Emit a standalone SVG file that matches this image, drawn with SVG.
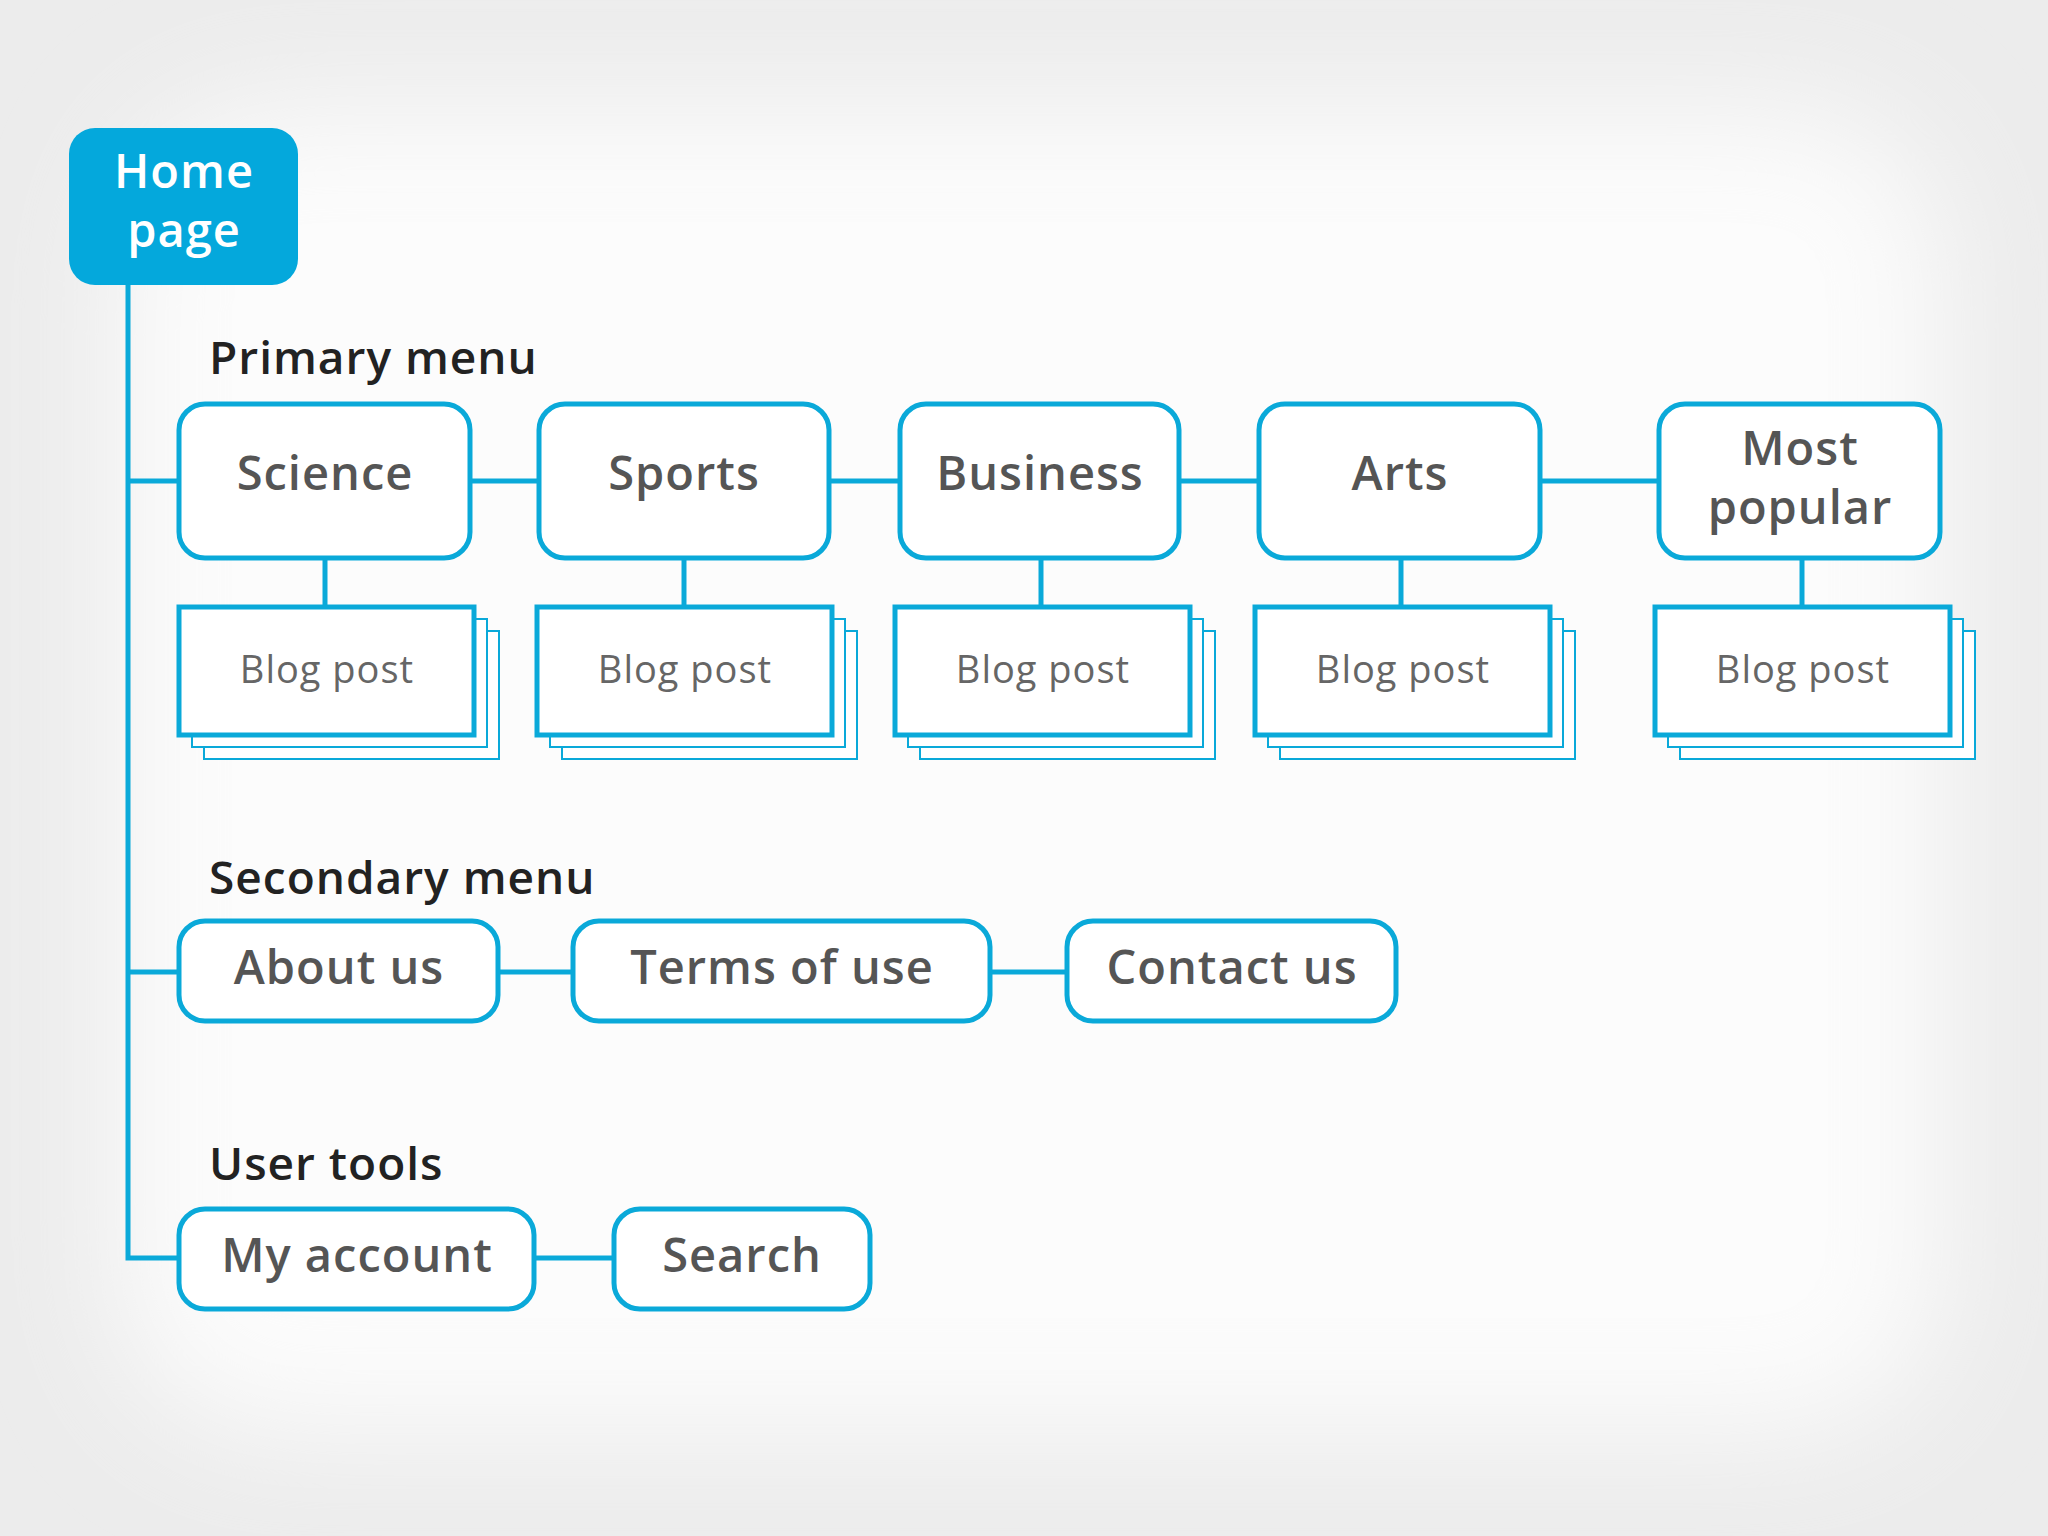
<svg xmlns="http://www.w3.org/2000/svg" width="2048" height="1536" viewBox="0 0 2048 1536">
<defs>
<filter id="blur" x="-20%" y="-20%" width="140%" height="140%"><feGaussianBlur stdDeviation="60"/></filter>
<style>
.n{fill:#fff;stroke:#0aa9d9;stroke-width:5}
.b{fill:#fff;stroke:#0aa9d9;stroke-width:5}
.s{fill:#fff;stroke:#0aa9d9;stroke-width:2}
.c{fill:none;stroke:#0aa9d9;stroke-width:5}
.t{font-family:"Open Sans","Liberation Sans",sans-serif;font-size:47px;fill:#555;text-anchor:middle;font-weight:600;letter-spacing:1px}
.bt{font-family:"Open Sans","Liberation Sans",sans-serif;font-size:38px;fill:#666;text-anchor:middle;letter-spacing:1px}
.h{font-family:"Open Sans","Liberation Sans",sans-serif;font-size:46px;fill:#222;font-weight:600;letter-spacing:1px}
</style>
</defs>
<rect width="2048" height="1536" fill="#ececec"/>
<rect x="120" y="110" width="1820" height="1320" rx="150" fill="#fcfcfc" filter="url(#blur)"/>
<g id="connectors">
<path class="c" d="M128 285 V1258 H179"/>
<path class="c" d="M128 481 H1659"/>
<path class="c" d="M128 972 H1067"/>
<path class="c" d="M534 1258 H614"/>
<path class="c" d="M325 558 V607 M684 558 V607 M1041 558 V607 M1401 558 V607 M1802 558 V607"/>
</g>
<g id="home"><rect x="69" y="128" width="229" height="157" rx="26" fill="#04a8dc"/>
<text x="184" y="188" class="t" style="fill:#fff">Home</text><text x="184" y="247" class="t" style="fill:#fff">page</text></g>
<text class="h" x="209" y="374">Primary menu</text>
<text class="h" x="209" y="894">Secondary menu</text>
<text class="h" x="209" y="1180">User tools</text>
<g id="science"><rect class="n" x="179" y="404" width="291" height="154" rx="26"/><text class="t" x="325" y="490">Science</text></g>
<g id="sports"><rect class="n" x="539" y="404" width="290" height="154" rx="26"/><text class="t" x="684" y="490">Sports</text></g>
<g id="business"><rect class="n" x="900" y="404" width="279" height="154" rx="26"/><text class="t" x="1040" y="490">Business</text></g>
<g id="arts"><rect class="n" x="1259" y="404" width="281" height="154" rx="26"/><text class="t" x="1400" y="490">Arts</text></g>
<g id="popular"><rect class="n" x="1659" y="404" width="281" height="154" rx="26"/><text class="t" x="1800" y="465">Most</text><text class="t" x="1800" y="524">popular</text></g>
<g id="blog1"><rect class="s" x="204" y="631" width="295" height="128"/><rect class="s" x="192" y="619" width="295" height="128"/><rect class="b" x="179" y="607" width="295" height="128"/><text class="bt" x="327" y="683">Blog post</text></g>
<g id="blog2"><rect class="s" x="562" y="631" width="295" height="128"/><rect class="s" x="550" y="619" width="295" height="128"/><rect class="b" x="537" y="607" width="295" height="128"/><text class="bt" x="685" y="683">Blog post</text></g>
<g id="blog3"><rect class="s" x="920" y="631" width="295" height="128"/><rect class="s" x="908" y="619" width="295" height="128"/><rect class="b" x="895" y="607" width="295" height="128"/><text class="bt" x="1043" y="683">Blog post</text></g>
<g id="blog4"><rect class="s" x="1280" y="631" width="295" height="128"/><rect class="s" x="1268" y="619" width="295" height="128"/><rect class="b" x="1255" y="607" width="295" height="128"/><text class="bt" x="1403" y="683">Blog post</text></g>
<g id="blog5"><rect class="s" x="1680" y="631" width="295" height="128"/><rect class="s" x="1668" y="619" width="295" height="128"/><rect class="b" x="1655" y="607" width="295" height="128"/><text class="bt" x="1803" y="683">Blog post</text></g>
<g id="about"><rect class="n" x="179" y="921" width="319" height="100" rx="26"/><text class="t" x="339" y="984">About us</text></g>
<g id="terms"><rect class="n" x="573" y="921" width="417" height="100" rx="26"/><text class="t" x="782" y="984">Terms of use</text></g>
<g id="contact"><rect class="n" x="1067" y="921" width="329" height="100" rx="26"/><text class="t" x="1232" y="984">Contact us</text></g>
<g id="account"><rect class="n" x="179" y="1209" width="355" height="100" rx="26"/><text class="t" x="357" y="1272">My account</text></g>
<g id="search"><rect class="n" x="614" y="1209" width="256" height="100" rx="26"/><text class="t" x="742" y="1272">Search</text></g>
</svg>
